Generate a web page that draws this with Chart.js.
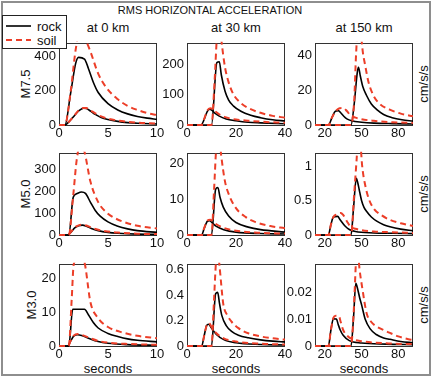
<!DOCTYPE html>
<html>
<head>
<meta charset="utf-8">
<script src="https://cdn.jsdelivr.net/npm/chart.js@4.4.1/dist/chart.umd.min.js"></script>
<style>
body{margin:0;width:434px;height:383px;background:#fff;position:relative;overflow:hidden;
  font-family:"Liberation Sans",Arial,Helvetica,sans-serif;color:#111}
.t{position:absolute;white-space:nowrap;transform:translate(-50%,-50%);font-size:13px;line-height:1}
.rot{transform:translate(-50%,-50%) rotate(-90deg)}
canvas{position:absolute}
#frame{position:absolute;left:1px;top:1px;width:430px;height:375px;box-sizing:border-box;border:2px solid #8e8e8e}
#legend{position:absolute;left:2px;top:15px;width:65px;height:34px;box-sizing:border-box;border:1px solid #222;background:#fff;z-index:5}
</style>
</head>
<body>
<div id="frame"></div>
<div class="t" style="left:210px;top:10px;font-size:11px">RMS HORIZONTAL ACCELERATION</div>
<div class="t" style="left:108px;top:27px">at 0 km</div>
<div class="t" style="left:236px;top:27px">at 30 km</div>
<div class="t" style="left:364px;top:27px">at 150 km</div>
<div class="t rot" style="left:25px;top:84px">M7.5</div>
<div class="t rot" style="left:25px;top:194px">M5.0</div>
<div class="t rot" style="left:31px;top:305px">M3.0</div>
<div class="t rot" style="left:423px;top:84px">cm/s/s</div>
<div class="t rot" style="left:423px;top:194px">cm/s/s</div>
<div class="t rot" style="left:423px;top:305px">cm/s/s</div>
<div class="t" style="left:108px;top:368px">seconds</div>
<div class="t" style="left:236px;top:368px">seconds</div>
<div class="t" style="left:364px;top:368px">seconds</div>
<div id="legend">
  <svg width="65" height="34" style="position:absolute;left:-1px;top:-1px">
    <line x1="4" y1="11" x2="29" y2="11" stroke="#000" stroke-width="1.6"/>
    <line x1="4" y1="25" x2="29" y2="25" stroke="rgb(236,62,40)" stroke-width="2" stroke-dasharray="6,4"/>
  </svg>
  <div class="t" style="left:34px;top:10px;transform:translate(0,-50%)">rock</div>
  <div class="t" style="left:34px;top:24px;transform:translate(0,-50%)">soil</div>
</div>
<script>
// values: [seconds, cm/s/s]
// M7.5
const m75_0km_rockS = [[0,0],[0.6,0],[1.2,190],[1.7,360],[2.0,395],[2.6,385],[3.0,330],[3.5,250],[4,190],[5,125],[6,88],[7,65],[8,50],[9,40],[10,33]];
const m75_0km_rockP = [[0,0],[0.6,0],[1.0,18],[1.5,50],[2.0,82],[2.5,98],[2.8,96],[3.2,82],[3.7,62],[4.3,44],[5,32],[6,21],[7,14],[8,10],[10,6]];
const m75_0km_soilS = [[0,0],[0.6,0],[1.2,200],[1.7,440],[2.2,560],[2.7,500],[3.2,430],[4,300],[4.8,220],[6,150],[7,112],[8,88],[9,70],[10,58]];
const m75_0km_soilP = [[0,0],[0.6,0],[1.0,18],[1.5,50],[2.0,84],[2.5,100],[2.8,99],[3.2,86],[3.7,68],[4.3,50],[5,37],[6,26],[7,19],[8,14],[10,9]];

const m75_30km_rockS = [[0,0],[10,0],[12.2,205],[13.2,208],[14,165],[15.5,112],[17,82],[19,62],[22,45],[26,32],[30,24],[35,17],[40,13]];
const m75_30km_rockP = [[0,0],[5.8,0],[7,18],[8.3,45],[9.3,52],[10.2,48],[11.5,38],[13,30],[16,20],[20,14],[25,9],[30,7],[40,4]];
const m75_30km_soilS = [[0,0],[10,0],[11.3,150],[12.3,300],[13.3,330],[14.3,260],[15.5,190],[17,140],[19,100],[22,72],[26,52],[30,40],[35,30],[40,24]];
const m75_30km_soilP = [[0,0],[5.8,0],[7,20],[8.3,48],[9.5,55],[10.5,52],[11.5,45],[13,36],[16,25],[20,18],[25,14],[30,11],[40,7]];

const m75_150km_rockS = [[12,0],[41.4,0],[44,12],[46.5,30],[47.5,33],[49,28],[51,22],[54,17],[58,12],[63,8.5],[68,6],[75,4.2],[83,3],[92,2.2]];
const m75_150km_rockP = [[12,0],[22.9,0],[26,4.5],[28.5,7.8],[31,8.2],[33,7],[35.5,5],[38,3.5],[42,2.4],[50,1.6],[60,1.1],[75,0.8],[92,0.6]];
const m75_150km_soilS = [[12,0],[41.4,0],[44,14],[45.5,40],[47.5,60],[49.5,52],[51,42],[53,34],[55.5,25],[59.6,17],[65,12],[73,8.8],[82,6.5],[92,5]];
const m75_150km_soilP = [[12,0],[22.9,0],[26,4.5],[29,8],[32,9.6],[35,9.8],[38,8],[41,5.5],[45,4.2],[50,3.3],[60,2.4],[75,1.6],[92,1.2]];

// M5.0
const m50_0km_rockS = [[0,0],[1.0,0],[1.45,172],[1.8,188],[2.3,196],[2.7,190],[3.2,150],[3.7,112],[4.2,86],[5,60],[6,40],[7,28],[8,20],[10,12]];
const m50_0km_rockP = [[0,0],[0.9,0],[1.2,12],[1.6,32],[2.0,42],[2.4,45],[2.8,40],[3.3,30],[4,20],[5,12],[6,8],[8,4],[10,3]];
const m50_0km_soilS = [[0,0],[1.0,0],[1.45,180],[1.8,340],[2.2,420],[2.6,380],[3.2,245],[4,150],[4.8,105],[5.5,82],[6.6,60],[8,42],[10,30]];
const m50_0km_soilP = [[0,0],[0.9,0],[1.2,13],[1.6,34],[2.0,44],[2.4,47],[2.8,43],[3.3,34],[4,24],[5,16],[6,11],[8,6],[10,4]];

const m50_30km_rockS = [[0,0],[10,0],[11.7,12.8],[12.6,13.3],[13.5,10.5],[14.8,7.8],[17,5.3],[20,3.5],[25,2.2],[30,1.5],[40,0.8]];
const m50_30km_rockP = [[0,0],[6,0],[7,1.8],[8.3,3.8],[9.3,4.0],[10.3,3.4],[12,2.4],[15,1.5],[20,0.8],[30,0.4],[40,0.3]];
const m50_30km_soilS = [[0,0],[10,0],[11,12],[12,25],[13,28],[14,22],[15.5,15],[17,11.5],[20,7.5],[24,5],[28,3.6],[34,2.5],[40,1.9]];
const m50_30km_soilP = [[0,0],[6,0],[7,1.9],[8.3,4.0],[9.5,4.3],[10.5,3.9],[12,3.0],[15,2.0],[20,1.2],[30,0.6],[40,0.4]];

const m50_150km_rockS = [[12,0],[41.4,0],[43.5,0.4],[45.7,0.82],[47,0.75],[48.5,0.62],[50,0.5],[52,0.4],[54.2,0.34],[58,0.26],[62.4,0.2],[68,0.15],[73.2,0.12],[82,0.085],[92,0.06]];
const m50_150km_rockP = [[12,0],[22.9,0],[25,0.15],[27,0.26],[30.5,0.27],[32.5,0.22],[36.5,0.13],[40,0.08],[45,0.05],[60,0.03],[75,0.025],[92,0.02]];
const m50_150km_soilS = [[12,0],[41.4,0],[44,0.6],[46,1.1],[47.5,1.5],[49,1.35],[50.5,1.0],[53,0.72],[56,0.52],[60,0.38],[66,0.29],[73,0.22],[82,0.17],[92,0.13]];
const m50_150km_soilP = [[12,0],[22.9,0],[25,0.15],[27,0.26],[30,0.30],[33,0.32],[35,0.29],[38,0.2],[41,0.12],[45,0.09],[60,0.05],[75,0.04],[92,0.03]];

// M3.0
const m30_0km_rockS = [[0,0],[1.0,0],[1.4,10.8],[2.6,10.8],[3.0,9.2],[3.5,6.9],[4,5.3],[5,3.7],[6,2.8],[7,2.1],[8,1.7],[10,1.2]];
const m30_0km_rockP = [[0,0],[0.9,0],[1.2,1.5],[1.5,2.9],[1.9,3.3],[2.3,3.1],[3,2.3],[4,1.3],[5,0.8],[7,0.4],[10,0.2]];
const m30_0km_soilS = [[0,0],[1.0,0],[1.3,14],[1.5,24],[2.0,26],[2.4,26],[2.65,24],[3.2,13],[4,8.2],[5,5.6],[6.6,3.9],[8,3],[10,2.3]];
const m30_0km_soilP = [[0,0],[0.9,0],[1.2,1.6],[1.5,3.0],[1.9,3.5],[2.3,3.3],[3,2.5],[4,1.5],[5,1.0],[7,0.6],[10,0.35]];

const m30_30km_rockS = [[0,0],[10,0],[11.7,0.41],[12.5,0.42],[13.3,0.33],[14.2,0.24],[16,0.16],[18.2,0.115],[21,0.085],[25,0.064],[30,0.048],[35,0.038],[40,0.032]];
const m30_30km_rockP = [[0,0],[6,0],[7,0.08],[8,0.16],[8.8,0.17],[10,0.14],[12,0.09],[15,0.05],[20,0.025],[30,0.012],[40,0.008]];
const m30_30km_soilS = [[0,0],[10,0],[11,0.35],[11.8,0.65],[12.5,0.75],[13.3,0.62],[14.8,0.33],[16.5,0.24],[18.2,0.19],[21,0.14],[25,0.10],[30,0.075],[35,0.06],[40,0.05]];
const m30_30km_soilP = [[0,0],[6,0],[7,0.08],[8,0.16],[9,0.18],[10,0.15],[12,0.1],[15,0.06],[20,0.035],[30,0.018],[40,0.012]];

const m30_150km_rockS = [[12,0],[41.4,0],[43.5,0.011],[45.3,0.0235],[47,0.021],[48.5,0.018],[50.1,0.0153],[53,0.01],[56.9,0.0065],[62,0.0043],[68,0.003],[73.2,0.0025],[82,0.0017],[92,0.0012]];
const m30_150km_rockP = [[12,0],[22.9,0],[25,0.006],[27,0.0102],[29.5,0.0101],[31,0.008],[32.5,0.0061],[35,0.004],[40,0.002],[50,0.0011],[70,0.0007],[92,0.0005]];
const m30_150km_soilS = [[12,0],[41.4,0],[43.5,0.012],[44.5,0.022],[45.5,0.032],[47,0.035],[48.3,0.029],[50.5,0.022],[54.2,0.0122],[58,0.009],[62.4,0.0073],[68,0.006],[73.2,0.0049],[80,0.0036],[86.8,0.0027],[92,0.0022]];
const m30_150km_soilP = [[12,0],[22.9,0],[25,0.006],[27,0.0105],[29,0.0113],[31.5,0.0112],[33,0.009],[35,0.006],[38,0.004],[43,0.0025],[50,0.0018],[70,0.001],[92,0.0007]];

// axes
const xRange = [[0, 10], [0, 40], [12, 92]];
const xTicks = [[0, 5, 10], [0, 20, 40], [20, 50, 80]];
const yMax = [[480, 270, 47], [375, 23, 1.19], [24.2, 0.644, 0.0308]];
const yTicks = [
  [[0, 200, 400], [0, 100, 200], [0, 20, 40]],
  [[0, 100, 200, 300], [0, 10, 20], [0, 0.5, 1]],
  [[0, 10, 20], [0, 0.2, 0.4, 0.6], [0, 0.01, 0.02]]
];
const series = [
  [[m75_0km_rockS, m75_0km_rockP, m75_0km_soilS, m75_0km_soilP],
   [m75_30km_rockS, m75_30km_rockP, m75_30km_soilS, m75_30km_soilP],
   [m75_150km_rockS, m75_150km_rockP, m75_150km_soilS, m75_150km_soilP]],
  [[m50_0km_rockS, m50_0km_rockP, m50_0km_soilS, m50_0km_soilP],
   [m50_30km_rockS, m50_30km_rockP, m50_30km_soilS, m50_30km_soilP],
   [m50_150km_rockS, m50_150km_rockP, m50_150km_soilS, m50_150km_soilP]],
  [[m30_0km_rockS, m30_0km_rockP, m30_0km_soilS, m30_0km_soilP],
   [m30_30km_rockS, m30_30km_rockP, m30_30km_soilS, m30_30km_soilP],
   [m30_150km_rockS, m30_150km_rockP, m30_150km_soilS, m30_150km_soilP]]
];

const colLeft = [59, 187, 315];
const rowTop = [42, 152, 263];
const PW = 98, PH = 83, YW = 44, TP = 10, RP = 14, XH = 20;
const RED = 'rgb(236,62,40)';

Chart.defaults.font.family = '"Liberation Sans", Arial, Helvetica, sans-serif';
Chart.defaults.color = '#111';

const boxPlugin = {
  id: 'box',
  beforeDatasetsDraw(chart) {
    const a = chart.chartArea, c = chart.ctx;
    c.save();
    c.strokeStyle = '#333';
    c.lineWidth = 1;
    c.strokeRect(Math.round(a.left) + 0.5, Math.round(a.top) + 0.5,
      Math.round(a.right - a.left) - 1, Math.round(a.bottom - a.top));
    c.restore();
  }
};

function lineSet(d, soil) {
  return {
    data: d,
    borderColor: soil ? RED : '#000',
    borderWidth: soil ? 2 : 1.6,
    borderDash: soil ? [6, 4] : [],
    pointRadius: 0,
    fill: false,
    cubicInterpolationMode: 'monotone',
    clip: {left: 0, right: 0, top: 1, bottom: 1}
  };
}

function drawPanel(r, c) {
  const cv = document.createElement('canvas');
  cv.width = YW + PW + RP;
  cv.height = TP + PH + XH;
  cv.style.left = (colLeft[c] - YW) + 'px';
  cv.style.top = (rowTop[r] - TP) + 'px';
  document.body.appendChild(cv);
  const s = series[r][c];
  const xt = xTicks[c], yt = yTicks[r][c];
  new Chart(cv, {
    type: 'line',
    data: {datasets: [lineSet(s[2], true), lineSet(s[3], true), lineSet(s[0], false), lineSet(s[1], false)]},
    options: {
      responsive: false,
      animation: false,
      layout: {padding: {top: TP, right: RP, left: 0, bottom: 0}},
      plugins: {legend: {display: false}, tooltip: {enabled: false}},
      scales: {
        x: {
          type: 'linear', min: xRange[c][0], max: xRange[c][1],
          afterBuildTicks: sc => { sc.ticks = xt.map(v => ({value: v})); },
          afterFit: sc => { sc.height = XH; },
          grid: {display: false, drawTicks: false},
          border: {display: false},
          ticks: {autoSkip: false, maxRotation: 0, padding: 1, font: {size: 13}, callback: v => String(v)}
        },
        y: {
          type: 'linear', min: 0, max: yMax[r][c],
          afterBuildTicks: sc => { sc.ticks = yt.map(v => ({value: v})); },
          afterFit: sc => { sc.width = YW; },
          grid: {display: false, drawTicks: false},
          border: {display: false},
          ticks: {autoSkip: false, padding: 3, font: {size: 13}, callback: v => String(v)}
        }
      }
    },
    plugins: [boxPlugin]
  });
}

for (let r = 0; r < 3; r++) {
  for (let c = 0; c < 3; c++) drawPanel(r, c);
}
</script>
</body>
</html>
